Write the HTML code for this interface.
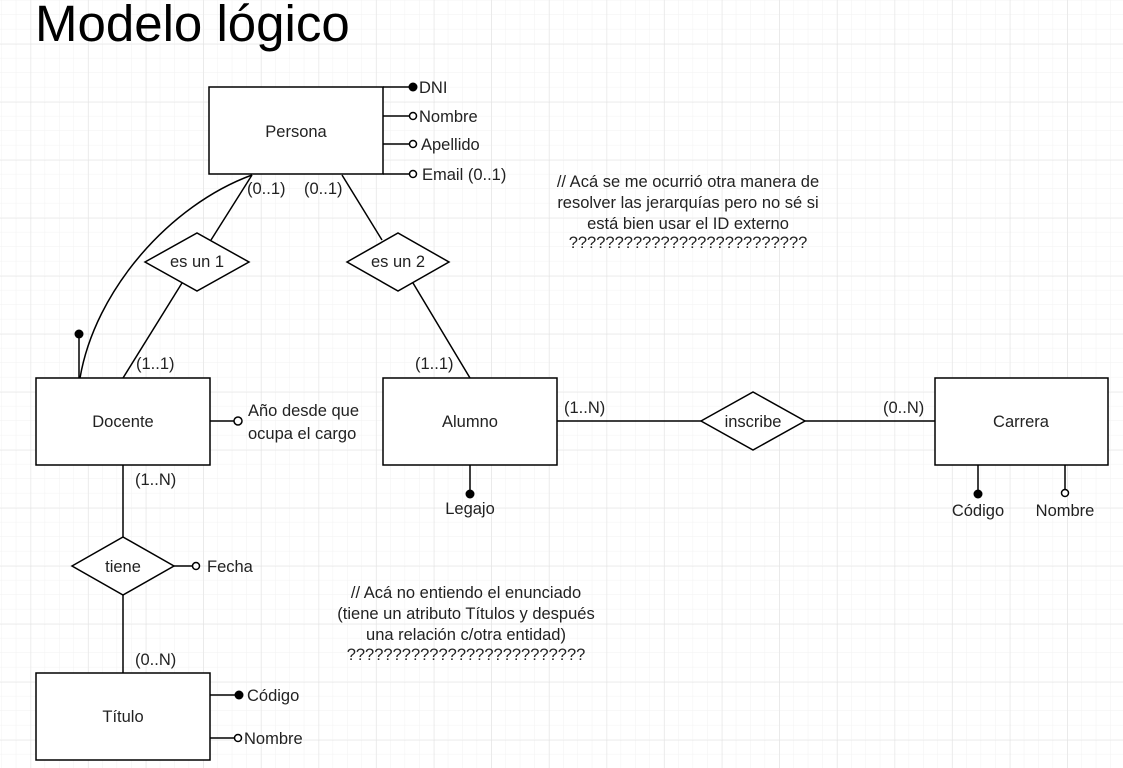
<!DOCTYPE html>
<html><head><meta charset="utf-8"><style>
html,body{margin:0;padding:0;background:#fff;}
svg{display:block;font-family:"Liberation Sans",Arial,sans-serif;}
</style></head><body>
<svg width="1123" height="768" xmlns="http://www.w3.org/2000/svg">
<defs>
<pattern id="mi" width="14.4" height="14.5" patternUnits="userSpaceOnUse" x="1.9" y="0.4">
<path d="M14.4 0V14.5M0 14.5H14.4" stroke="#f2f2f2" stroke-width="1" fill="none"/></pattern>
<pattern id="ma" width="57.6" height="58" patternUnits="userSpaceOnUse" x="30.7" y="43.9">
<path d="M0 0V58M0 0H57.6" stroke="#e2e2e2" stroke-width="1" fill="none"/></pattern>
</defs>
<rect width="1123" height="768" fill="url(#mi)"/>
<rect width="1123" height="768" fill="url(#ma)"/>
<text x="35" y="41" font-size="51" fill="#000">Modelo lógico</text>
<g stroke="#000" stroke-width="1.5" fill="#fff">
<path d="M252,175 C170,205 95,290 80,378" fill="none"/>
<line x1="252" y1="175" x2="211" y2="240"/>
<line x1="182" y1="283" x2="123" y2="378"/>
<line x1="342" y1="175" x2="382" y2="240"/>
<line x1="413" y1="283" x2="470" y2="378"/>
<line x1="79" y1="334" x2="79" y2="378"/>
<line x1="557" y1="421" x2="935" y2="421"/>
<line x1="123" y1="465" x2="123" y2="673"/>
<line x1="383" y1="87" x2="413" y2="87"/>
<line x1="383" y1="116" x2="410" y2="116"/>
<line x1="383" y1="144" x2="410" y2="144"/>
<line x1="383" y1="174" x2="410" y2="174"/>
<line x1="210" y1="421" x2="234" y2="421"/>
<line x1="470" y1="465" x2="470" y2="493"/>
<line x1="978" y1="465" x2="978" y2="493"/>
<line x1="1065" y1="465" x2="1065" y2="490"/>
<line x1="174" y1="566" x2="192" y2="566"/>
<line x1="210" y1="695" x2="238" y2="695"/>
<line x1="210" y1="738" x2="235" y2="738"/>
<rect x="209" y="87" width="174" height="87"/>
<rect x="36" y="378" width="174" height="87"/>
<rect x="383" y="378" width="174" height="87"/>
<rect x="935" y="378" width="173" height="87"/>
<rect x="36" y="673" width="174" height="87"/>
<polygon points="145,262 197,233 249,262 197,291"/>
<polygon points="347,262 398,233 449,262 398,291"/>
<polygon points="701,421 753,392 805,421 753,450"/>
<polygon points="72,566 123,537 174,566 123,595"/>
<circle cx="413" cy="116" r="3.5"/>
<circle cx="413" cy="144" r="3.5"/>
<circle cx="413" cy="174" r="3.5"/>
<circle cx="238" cy="421" r="4"/>
<circle cx="1065" cy="493" r="3.5"/>
<circle cx="196" cy="566" r="3.5"/>
<circle cx="238" cy="738" r="3.5"/>
</g>
<g fill="#000">
<circle cx="413" cy="87" r="4.5"/>
<circle cx="79" cy="334" r="4.5"/>
<circle cx="470" cy="494" r="4.5"/>
<circle cx="978" cy="494" r="4.5"/>
<circle cx="239" cy="695" r="4.5"/>
</g>
<g font-size="16.5" fill="#222" text-anchor="middle">
<text x="296" y="137">Persona</text>
<text x="123" y="427">Docente</text>
<text x="470" y="427">Alumno</text>
<text x="1021" y="427">Carrera</text>
<text x="123" y="722">Título</text>
<text x="197" y="267">es un 1</text>
<text x="398" y="267">es un 2</text>
<text x="753" y="427">inscribe</text>
<text x="123" y="572">tiene</text>
<text x="470" y="514">Legajo</text>
<text x="978" y="516">Código</text>
<text x="1065" y="516">Nombre</text>
<text x="688" y="187">// Acá se me ocurrió otra manera de</text>
<text x="688" y="208">resolver las jerarquías pero no sé si</text>
<text x="688" y="229">está bien usar el ID externo</text>
<text x="688" y="248">??????????????????????????</text>
<text x="466" y="598">// Acá no entiendo el enunciado</text>
<text x="466" y="619">(tiene un atributo Títulos y después</text>
<text x="466" y="640">una relación c/otra entidad)</text>
<text x="466" y="660">??????????????????????????</text>
</g>
<g font-size="16.5" fill="#222">
<text x="419" y="93">DNI</text>
<text x="419" y="122">Nombre</text>
<text x="421" y="150">Apellido</text>
<text x="422" y="180">Email (0..1)</text>
<text x="247" y="194">(0..1)</text>
<text x="304" y="194">(0..1)</text>
<text x="136" y="369">(1..1)</text>
<text x="415" y="369">(1..1)</text>
<text x="248" y="416">Año desde que</text>
<text x="248" y="439">ocupa el cargo</text>
<text x="564" y="413">(1..N)</text>
<text x="883" y="413">(0..N)</text>
<text x="135" y="485">(1..N)</text>
<text x="207" y="572">Fecha</text>
<text x="135" y="665">(0..N)</text>
<text x="247" y="701">Código</text>
<text x="244" y="744">Nombre</text>
</g>
</svg>
</body></html>
